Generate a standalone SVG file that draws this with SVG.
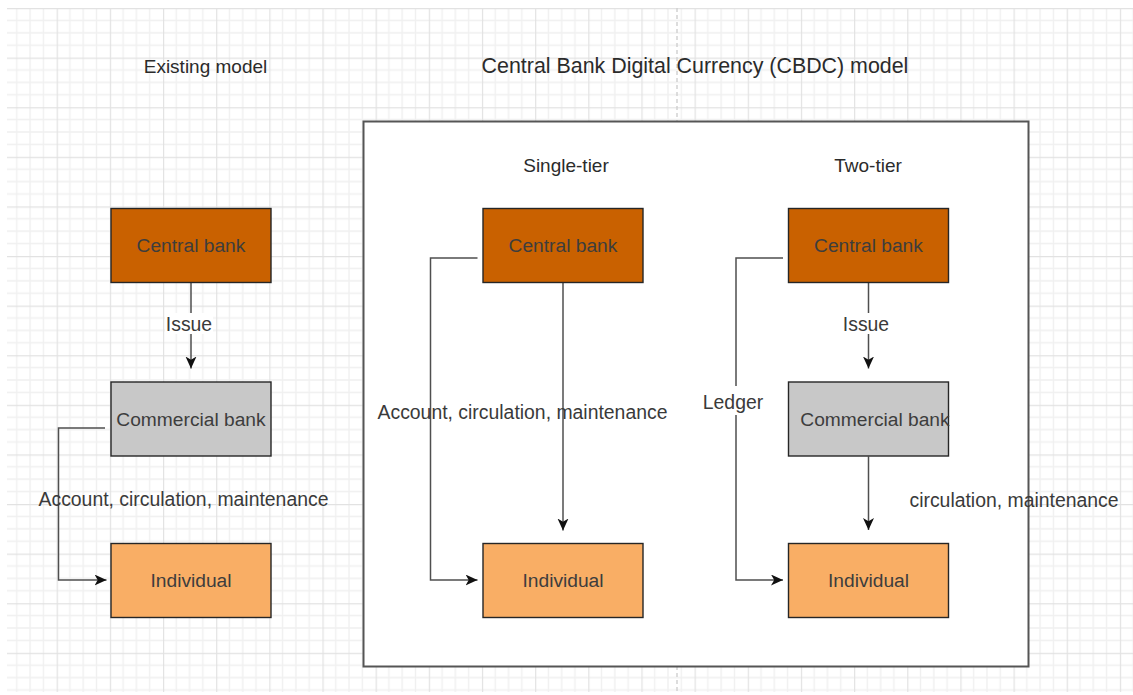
<svg xmlns="http://www.w3.org/2000/svg" width="1133" height="695" viewBox="0 0 1133 695">
  <defs>
    <!-- canvas grid: 4 minor cells per major cell -->
    <pattern id="grid" patternUnits="userSpaceOnUse" x="3.5" y="8" width="53.16" height="49.6">
      <g stroke="#f0f0f0" stroke-width="1.4" fill="none">
        <path d="M13.29 0V49.6M26.58 0V49.6M39.87 0V49.6"/>
        <path d="M0 12.4H53.16M0 24.8H53.16M0 37.2H53.16"/>
      </g>
      <g stroke="#e2e2e2" stroke-width="1.2" fill="none">
        <path d="M0.6 0V49.6"/>
        <path d="M0 0.6H53.16"/>
      </g>
    </pattern>
    <marker id="arrow" markerUnits="userSpaceOnUse" markerWidth="13" markerHeight="12" refX="12" refY="5.5" orient="auto">
      <path d="M0,0 L12,5.5 L0,11 L3.2,5.5 Z" fill="#111"/>
    </marker>
    <style>
      text { font-family: "Liberation Sans", Arial, sans-serif; fill: #333; text-anchor: middle; dominant-baseline: central; }
      .title { font-size: 21.4px; fill: #2b2b2b; }
      .head { font-size: 19px; fill: #2b2b2b; }
      .lbl { font-size: 19.4px; fill: #3a3a3a; }
      .node rect { stroke: #262626; stroke-width: 1.4; }
      .central { fill: #C96100; }
      .commercial { fill: #C8C8C8; }
      .individual { fill: #F9AE65; }
      .node text { font-size: 19.2px; fill: #3d3d3d; }
      .edge { fill: none; stroke: #4f4f4f; stroke-width: 1.5; }
      .arrowed { marker-end: url(#arrow); }
      .lblbg { fill: #ffffff; }
    </style>
  </defs>

  <!-- background and grid -->
  <rect width="1133" height="695" fill="#ffffff"/>
  <rect x="7" y="8" width="1126" height="684" fill="url(#grid)"/>
  <!-- page break -->
  <line x1="677" y1="8" x2="677" y2="692" stroke="#cfcfcf" stroke-width="1.4" stroke-dasharray="4 3"/>

  <!-- section headings -->
  <text class="head" x="205.5" y="66">Existing model</text>
  <text class="title" x="695" y="66">Central Bank Digital Currency (CBDC) model</text>

  <!-- CBDC container -->
  <g id="cbdc-container">
    <rect x="363.5" y="121.5" width="665" height="545" fill="#ffffff" stroke="#555" stroke-width="2"/>
    <text class="head" x="566" y="165">Single-tier</text>
    <text class="head" x="868" y="165">Two-tier</text>
  </g>

  <!-- connectors -->
  <g id="connectors">
    <!-- existing model -->
    <path class="edge arrowed" d="M191 282.5V368.5"/>
    <path class="edge arrowed" d="M105 428H58.5V580H106.5"/>
    <!-- single-tier -->
    <path class="edge arrowed" d="M477.5 258H430.5V580H477.5"/>
    <path class="edge arrowed" d="M563 282.5V530.5"/>
    <!-- two-tier -->
    <path class="edge arrowed" d="M868.5 282.5V368.5"/>
    <path class="edge arrowed" d="M783 258H736V580H783"/>
    <path class="edge arrowed" d="M868.5 456.5V530"/>

    <!-- connector labels -->
    <rect class="lblbg" x="165" y="313" width="48" height="21"/>
    <text class="lbl" x="189" y="324">Issue</text>
    <text class="lbl" x="183.5" y="499">Account, circulation, maintenance</text>
    <text class="lbl" x="522.5" y="412">Account, circulation, maintenance</text>
    <rect class="lblbg" x="842" y="313" width="48" height="21"/>
    <text class="lbl" x="866" y="324">Issue</text>
    <rect class="lblbg" x="703" y="386" width="61" height="29"/>
    <text class="lbl" x="733" y="402">Ledger</text>
    <text class="lbl" x="1014" y="500">circulation, maintenance</text>
  </g>

  <!-- existing model nodes -->
  <g id="existing-central-bank" class="node">
    <rect class="central" x="111" y="208.5" width="160" height="74"/>
    <text x="191" y="245.5">Central bank</text>
  </g>
  <g id="existing-commercial-bank" class="node">
    <rect class="commercial" x="111" y="382" width="160" height="74"/>
    <text x="191" y="419">Commercial bank</text>
  </g>
  <g id="existing-individual" class="node">
    <rect class="individual" x="111" y="543.5" width="160" height="74"/>
    <text x="191" y="580.5">Individual</text>
  </g>

  <!-- single-tier nodes -->
  <g id="single-central-bank" class="node">
    <rect class="central" x="483" y="208.5" width="160" height="74"/>
    <text x="563" y="245.5">Central bank</text>
  </g>
  <g id="single-individual" class="node">
    <rect class="individual" x="483" y="543.5" width="160" height="74"/>
    <text x="563" y="580.5">Individual</text>
  </g>

  <!-- two-tier nodes -->
  <g id="two-central-bank" class="node">
    <rect class="central" x="788.5" y="208.5" width="160" height="74"/>
    <text x="868.5" y="245.5">Central bank</text>
  </g>
  <g id="two-commercial-bank" class="node">
    <rect class="commercial" x="788.5" y="382" width="160" height="74"/>
    <text x="875" y="419">Commercial bank</text>
  </g>
  <g id="two-individual" class="node">
    <rect class="individual" x="788.5" y="543.5" width="160" height="74"/>
    <text x="868.5" y="580.5">Individual</text>
  </g>
</svg>
